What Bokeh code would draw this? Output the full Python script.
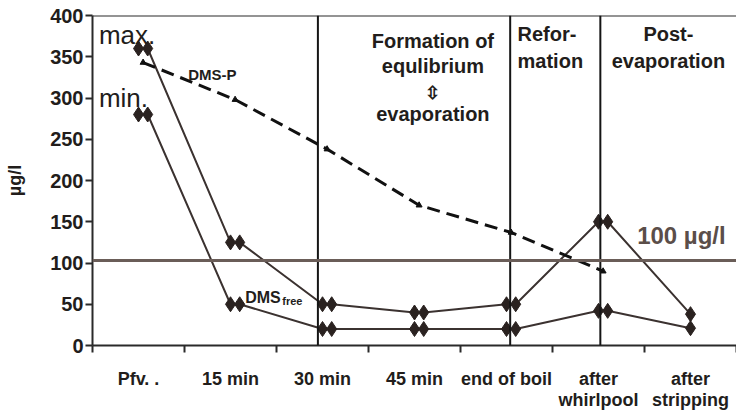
from bokeh.plotting import figure
from bokeh.models import FixedTicker, Span, Label, Range1d
from bokeh.embed import file_html
from bokeh.resources import INLINE

# ---- data ----
categories = ["Pfv. .", "15 min", "30 min", "45 min", "end of boil",
              "after\nwhirlpool", "after\nstripping"]
dms_free_max = [360, 125, 50, 40, 50, 150, 38]
dms_free_min = [280, 50, 20, 20, 20, 42, 21]
dms_p = [343, 298, 238, 170, 137, 90]
limit_value = 103
y_ticks = [0, 50, 100, 150, 200, 250, 300, 350, 400]

FONT = "Liberation Sans"
TXT = "#221d1b"
LINE = "#3b3230"
MARK = "#2a2220"

centers = [i + 0.5 for i in range(len(categories))]

p = figure(width=736, height=415, x_range=Range1d(0, 7), y_range=Range1d(0, 400),
           output_backend="svg", toolbar_location=None,
           min_border_left=92, min_border_right=0, min_border_top=15, min_border_bottom=70)
p.outline_line_color = None
p.xgrid.visible = False
p.ygrid.visible = False
p.background_fill_color = "white"

# x axis: labels at category centres, ticks at boundaries
xt = FixedTicker(ticks=centers, minor_ticks=list(range(len(categories) + 1)))
p.xaxis.ticker = xt
p.xaxis.major_label_overrides = {c: lab for c, lab in zip(centers, categories)}
p.xaxis.major_tick_out = 0
p.xaxis.major_tick_in = 0
p.xaxis.minor_tick_out = 7
p.xaxis.minor_tick_in = 0
p.xaxis.major_label_standoff = 16
p.xaxis.major_label_text_line_height = 1.05
p.xaxis.major_label_text_font = FONT
p.xaxis.major_label_text_font_style = "bold"
p.xaxis.major_label_text_font_size = "18px"
p.xaxis.major_label_text_color = TXT
p.xaxis.axis_line_width = 2
p.xaxis.axis_line_color = "#2a2a2a"
p.xaxis.minor_tick_line_width = 2
p.xaxis.minor_tick_line_color = "#2a2a2a"

p.yaxis.ticker = FixedTicker(ticks=y_ticks)
p.yaxis.minor_tick_line_color = None
p.yaxis.major_tick_out = 7
p.yaxis.major_tick_in = 0
p.yaxis.major_tick_line_width = 2
p.yaxis.major_tick_line_color = "#2a2a2a"
p.yaxis.axis_line_width = 2
p.yaxis.axis_line_color = "#2a2a2a"
p.yaxis.major_label_standoff = 2
p.yaxis.major_label_text_font = FONT
p.yaxis.major_label_text_font_style = "bold"
p.yaxis.major_label_text_font_size = "20px"
p.yaxis.major_label_text_color = TXT
p.yaxis.axis_label = "µg/l"
p.yaxis.axis_label_text_font = FONT
p.yaxis.axis_label_text_font_style = "bold"
p.yaxis.axis_label_text_font_size = "18px"
p.yaxis.axis_label_text_color = TXT
p.yaxis.axis_label_standoff = 22

# top border and phase separators
p.add_layout(Span(location=400, dimension="width", line_color="#2a2a2a", line_width=2))
for xv in [2.45, 4.54, 5.52]:
    p.add_layout(Span(location=xv, dimension="height", line_color="#151515", line_width=2))

# 100 µg/l limit
p.add_layout(Span(location=limit_value, dimension="width", line_color="#6a5d58", line_width=3))

# DMS free max/min with doubled diamonds
def doubled(vals):
    xs, ys = [], []
    for i, v in enumerate(vals):
        xs.append(centers[i]); ys.append(v)
        if i < len(vals) - 1:
            xs.append(centers[i] + 0.1); ys.append(v)
    return xs, ys

for series in (dms_free_max, dms_free_min):
    xs, ys = doubled(series)
    p.line(xs, ys, line_color=LINE, line_width=2)
    p.scatter(xs, ys, marker="diamond", size=15, fill_color=MARK, line_color=MARK)

# DMS-P dashed
px = [centers[i] + 0.05 for i in range(len(dms_p))]
p.line(px, dms_p, line_color="#111111", line_width=3, line_dash="13 7")
p.scatter(px, dms_p, marker="triangle", size=6, fill_color="#111111", line_color="#111111")

def lab(x, y, text, size, style="bold", align="left", baseline="alphabetic", color=TXT, **kw):
    p.add_layout(Label(x=x, y=y, text=text, text_font=FONT, text_font_size=size,
                       text_font_style=style, text_align=align, text_baseline=baseline,
                       text_color=color, **kw))

lab(0.07, 376, "max.", "26px", style="normal")
lab(0.07, 300, "min.", "26px", style="normal")
lab(1.04, 328, "DMS-P", "15px")
lab(1.66, 58, "DMS", "16px")
lab(1.66, 54, "free", "11px", x_offset=37)
lab(5.92, 133, "100 µg/l", "24px", color="#5b4e49")

# phase headings
lab(3.70, 369, "Formation of", "20px", align="center", baseline="middle")
lab(3.70, 339, "equlibrium", "20px", align="center", baseline="middle")
lab(3.70, 306, "⇳", "18px", align="center", baseline="middle")
lab(3.70, 281, "evaporation", "20px", align="center", baseline="middle")
lab(4.62, 378, "Refor-", "20px", baseline="middle")
lab(4.62, 345, "mation", "20px", baseline="middle")
lab(6.26, 378, "Post-", "20px", align="center", baseline="middle")
lab(6.26, 345, "evaporation", "20px", align="center", baseline="middle")

open("out.html", "w").write(file_html(p, INLINE))
